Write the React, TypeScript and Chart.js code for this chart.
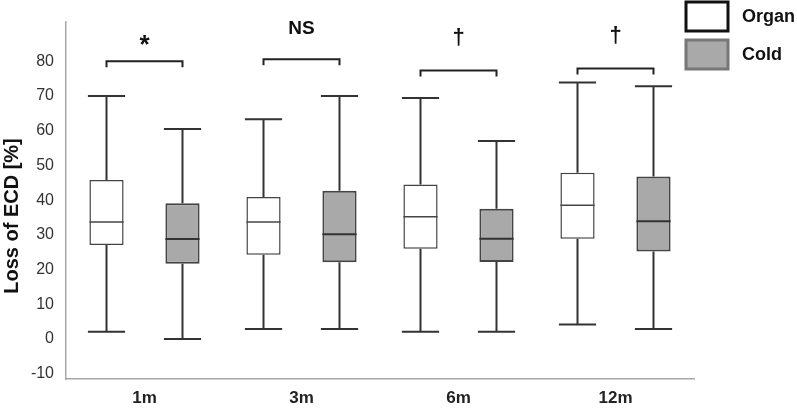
import React, { useEffect, useRef } from "react";
import { Chart, registerables } from "chart.js";

Chart.register(...registerables);

const categories = ["1m", "3m", "6m", "12m"];
const seriesNames = ["Organ", "Cold"];

const organMin = [2.1, 2.9, 2.1, 4.2];
const organQ1 = [27.1, 24.3, 26.0, 28.9];
const organMedian = [33.7, 33.7, 35.2, 38.5];
const organQ3 = [45.8, 40.9, 44.5, 47.9];
const organMax = [70, 63.3, 69.4, 73.9];

const coldMin = [0, 2.9, 2.1, 2.9];
const coldQ1 = [21.7, 22.1, 22.2, 25.2];
const coldMedian = [28.8, 30.2, 28.9, 33.9];
const coldQ3 = [39.1, 42.7, 37.5, 46.8];
const coldMax = [60.5, 70, 57.0, 72.8];

const sigLabels = ["*", "NS", "\u2020", "\u2020"];
const sigBracketY = [80, 80.6, 77.3, 77.9];

const yTicks = [-10, 0, 10, 20, 30, 40, 50, 60, 70, 80];
const yTitle = "Loss of ECD [%]";

const FONT = "'Liberation Sans', Arial, sans-serif";

const stats = [
  { min: organMin, q1: organQ1, med: organMedian, q3: organQ3, max: organMax },
  { min: coldMin, q1: coldQ1, med: coldMedian, q3: coldQ3, max: coldMax },
];

const boxPlugin = {
  id: "boxExtras",
  afterDatasetsDraw(chart: any) {
    const ctx = chart.ctx;
    const y = chart.scales.y;
    ctx.save();
    // whiskers and medians
    stats.forEach((s, di) => {
      const meta = chart.getDatasetMeta(di);
      meta.data.forEach((bar: any, i: number) => {
        const cx = bar.x;
        const half = bar.width / 2;
        const capHalf = half + 1.5;
        const yMin = y.getPixelForValue(s.min[i]);
        const yQ1 = y.getPixelForValue(s.q1[i]);
        const yQ3 = y.getPixelForValue(s.q3[i]);
        const yMax = y.getPixelForValue(s.max[i]);
        const yMed = y.getPixelForValue(s.med[i]);
        ctx.strokeStyle = "#333333";
        ctx.lineWidth = 2;
        ctx.beginPath();
        ctx.moveTo(cx, yMax);
        ctx.lineTo(cx, yQ3);
        ctx.moveTo(cx, yQ1);
        ctx.lineTo(cx, yMin);
        ctx.moveTo(cx - capHalf, yMax);
        ctx.lineTo(cx + capHalf, yMax);
        ctx.moveTo(cx - capHalf, yMin);
        ctx.lineTo(cx + capHalf, yMin);
        ctx.stroke();
        ctx.lineWidth = di === 0 ? 1.5 : 2;
        ctx.strokeStyle = di === 0 ? "#444444" : "#333333";
        ctx.beginPath();
        ctx.moveTo(cx - half, yMed);
        ctx.lineTo(cx + half, yMed);
        ctx.stroke();
      });
    });
    // significance brackets
    const m0 = chart.getDatasetMeta(0);
    const m1 = chart.getDatasetMeta(1);
    sigLabels.forEach((lab, i) => {
      const x0 = m0.data[i].x;
      const x1 = m1.data[i].x;
      const by = y.getPixelForValue(sigBracketY[i]);
      ctx.strokeStyle = "#222222";
      ctx.lineWidth = 2;
      ctx.beginPath();
      ctx.moveTo(x0, by + 6);
      ctx.lineTo(x0, by);
      ctx.lineTo(x1, by);
      ctx.lineTo(x1, by + 6);
      ctx.stroke();
      ctx.fillStyle = "#111111";
      ctx.textAlign = "center";
      ctx.textBaseline = "middle";
      let font = `bold 19px ${FONT}`;
      let off = 30;
      if (lab === "*") {
        font = `bold 26px ${FONT}`;
        off = 15;
      } else if (lab === "\u2020") {
        font = `bold 22px ${FONT}`;
        off = 33;
      }
      ctx.font = font;
      ctx.fillText(lab, (x0 + x1) / 2, by - off);
    });
    // legend
    const items = [
      { fill: "#ffffff", stroke: "#111111", y: 2 },
      { fill: "#a9a9a9", stroke: "#777777", y: 40 },
    ];
    items.forEach((it, k) => {
      ctx.fillStyle = it.fill;
      ctx.fillRect(686, it.y, 42, 29);
      ctx.strokeStyle = it.stroke;
      ctx.lineWidth = 3;
      ctx.strokeRect(686, it.y, 42, 29);
      ctx.fillStyle = "#111111";
      ctx.textAlign = "left";
      ctx.textBaseline = "middle";
      ctx.font = `bold 18px ${FONT}`;
      ctx.fillText(seriesNames[k], 742, it.y + 15);
    });
    // y-axis title
    ctx.translate(12, 216);
    ctx.rotate(-Math.PI / 2);
    ctx.fillStyle = "#111111";
    ctx.textAlign = "center";
    ctx.textBaseline = "middle";
    ctx.font = `bold 20px ${FONT}`;
    ctx.fillText(yTitle, 0, 0);
    ctx.restore();
  },
};

export default function App() {
  const canvasRef = useRef<HTMLCanvasElement | null>(null);

  useEffect(() => {
    if (!canvasRef.current) return;
    const chart = new Chart(canvasRef.current, {
      type: "bar",
      data: {
        labels: categories,
        datasets: [
          {
            label: seriesNames[0],
            data: categories.map((_, i) => [organQ1[i], organQ3[i]]) as any,
            backgroundColor: "#ffffff",
            borderColor: "#444444",
            borderWidth: 1.5,
            borderSkipped: false,
            categoryPercentage: 0.968,
            barPercentage: 0.45,
          },
          {
            label: seriesNames[1],
            data: categories.map((_, i) => [coldQ1[i], coldQ3[i]]) as any,
            backgroundColor: "#a9a9a9",
            borderColor: "#444444",
            borderWidth: 2,
            borderSkipped: false,
            categoryPercentage: 0.968,
            barPercentage: 0.45,
          },
        ],
      },
      options: {
        animation: false,
        responsive: true,
        maintainAspectRatio: false,
        layout: { padding: { top: 22, right: 103, left: 0, bottom: 0 } },
        plugins: {
          legend: { display: false },
          tooltip: { enabled: false },
        },
        scales: {
          x: {
            grid: { display: false, drawTicks: false },
            border: { display: true, color: "#a6a6a6", width: 1.5 },
            ticks: {
              color: "#222222",
              padding: 9,
              font: { family: FONT, size: 17, weight: "bold" },
            },
            afterFit: (s: any) => {
              s.height = 29;
            },
          },
          y: {
            min: -11.5,
            max: 91.3,
            grid: { display: false, drawTicks: false },
            border: { display: true, color: "#a6a6a6", width: 1.5 },
            afterBuildTicks: (s: any) => {
              s.ticks = yTicks.map((v) => ({ value: v }));
            },
            ticks: {
              color: "#333333",
              padding: 12,
              font: { family: FONT, size: 16 },
            },
            title: { display: false },
            afterFit: (s: any) => {
              s.width = 66;
            },
          },
        },
      },
      plugins: [boxPlugin],
    });
    return () => chart.destroy();
  }, []);

  return (
    <div style={{ position: "fixed", left: 0, top: 0, width: 797, height: 408, background: "#ffffff" }}>
      <canvas ref={canvasRef} />
    </div>
  );
}
